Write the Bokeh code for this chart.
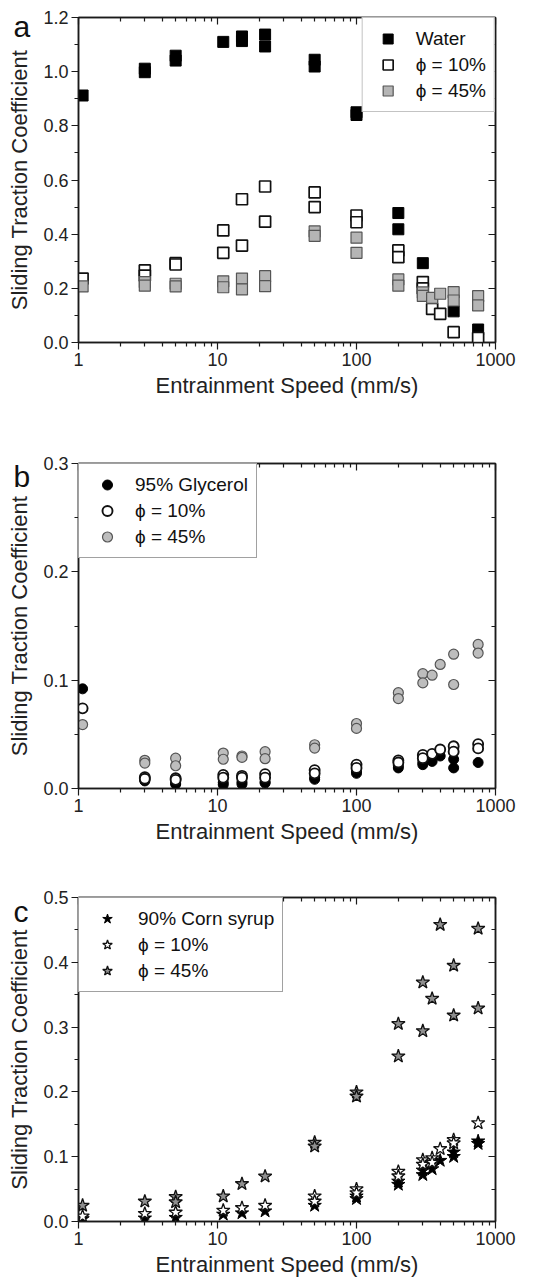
from bokeh.plotting import figure
from bokeh.layouts import column
from bokeh.models import (LogAxis, LinearAxis, FixedTicker, NumeralTickFormatter,
                          PrintfTickFormatter, Label, Legend, LegendItem)
from bokeh.embed import file_html
from bokeh.resources import INLINE

FONT = "Liberation Sans"

# ---------------- data ----------------
x_major = [1, 10, 100, 1000]
x_minor = [2, 3, 4, 5, 6, 7, 8, 9, 20, 30, 40, 50, 60, 70, 80, 90,
           200, 300, 400, 500, 600, 700, 800, 900]
x_title = "Entrainment Speed (mm/s)"
y_title = "Sliding Traction Coefficient"
PHI = "\u03d5"

# panel a
a_water_x = [1.07, 3, 3, 5, 5, 11, 15, 15, 22, 22, 50, 50, 100, 100, 200, 200, 300, 350, 500, 750]
a_water_y = [0.912, 1.011, 0.998, 1.059, 1.041, 1.110, 1.130, 1.113, 1.137, 1.093, 1.044, 1.019,
             0.850, 0.840, 0.478, 0.418, 0.293, 0.145, 0.115, 0.048]
a_phi10_x = [1.07, 3, 3, 5, 5, 11, 11, 15, 15, 22, 22, 50, 50, 100, 100, 200, 200, 300, 300,
             350, 400, 500, 750]
a_phi10_y = [0.236, 0.266, 0.247, 0.293, 0.288, 0.414, 0.331, 0.529, 0.358, 0.576, 0.446, 0.554,
             0.500, 0.469, 0.444, 0.340, 0.315, 0.223, 0.200, 0.124, 0.106, 0.038, 0.017]
a_phi45_x = [1.07, 3, 3, 5, 5, 11, 11, 15, 15, 22, 22, 50, 50, 100, 100, 200, 200, 300, 300,
             350, 400, 500, 500, 750, 750]
a_phi45_y = [0.207, 0.223, 0.210, 0.217, 0.207, 0.226, 0.204, 0.236, 0.196, 0.245, 0.208, 0.410,
             0.394, 0.387, 0.331, 0.233, 0.210, 0.185, 0.172, 0.165, 0.180, 0.186, 0.155, 0.171, 0.137]
a_labels = ["Water", PHI + " = 10%", PHI + " = 45%"]
a_y_ticks = [0.0, 0.2, 0.4, 0.6, 0.8, 1.0, 1.2]
a_y_minor = [0.1, 0.3, 0.5, 0.7, 0.9, 1.1]

# panel b
b_gly_x = [1.07, 3, 3, 5, 5, 11, 11, 15, 15, 22, 22, 50, 50, 100, 100, 200, 200, 300, 300,
           350, 400, 500, 500, 750]
b_gly_y = [0.092, 0.008, 0.007, 0.005, 0.004, 0.0055, 0.0035, 0.006, 0.004, 0.006, 0.005,
           0.010, 0.0085, 0.016, 0.014, 0.021, 0.019, 0.024, 0.022, 0.025, 0.030, 0.027, 0.019, 0.024]
b_phi10_x = [1.07, 3, 3, 5, 5, 11, 11, 15, 15, 22, 22, 50, 50, 100, 100, 200, 200, 300, 300,
             350, 400, 500, 500, 750, 750]
b_phi10_y = [0.074, 0.0105, 0.009, 0.0095, 0.008, 0.0126, 0.010, 0.0117, 0.010, 0.0133, 0.010,
             0.0170, 0.014, 0.022, 0.019, 0.026, 0.024, 0.031, 0.028, 0.032, 0.036, 0.039, 0.034,
             0.041, 0.037]
b_phi45_x = [1.07, 3, 3, 5, 5, 11, 11, 15, 15, 22, 22, 50, 50, 100, 100, 200, 200, 300, 300,
             350, 400, 500, 500, 750, 750]
b_phi45_y = [0.059, 0.026, 0.0235, 0.028, 0.021, 0.0327, 0.027, 0.030, 0.0287, 0.034, 0.0275,
             0.0404, 0.0373, 0.060, 0.0555, 0.0885, 0.083, 0.106, 0.0975, 0.1046, 0.1145, 0.124,
             0.096, 0.133, 0.125]
b_labels = ["95% Glycerol", PHI + " = 10%", PHI + " = 45%"]
b_y_ticks = [0.0, 0.1, 0.2, 0.3]
b_y_minor = [0.05, 0.15, 0.25]

# panel c
c_corn_x = [1.07, 3, 5, 11, 15, 22, 50, 100, 100, 200, 200, 300, 300, 350, 400, 500, 500, 750, 750]
c_corn_y = [0.004, 0.005, 0.006, 0.011, 0.013, 0.016, 0.0246, 0.039, 0.035, 0.062, 0.057, 0.079,
            0.072, 0.081, 0.094, 0.107, 0.100, 0.124, 0.120]
c_phi10_x = [1.07, 3, 5, 11, 15, 22, 50, 50, 100, 100, 200, 200, 300, 300, 350, 350, 400, 500, 500, 750]
c_phi10_y = [0.008, 0.012, 0.014, 0.017, 0.021, 0.0246, 0.039, 0.031, 0.050, 0.044, 0.077, 0.070,
             0.095, 0.088, 0.098, 0.091, 0.112, 0.126, 0.121, 0.152]
c_phi45_x = [1.07, 3, 5, 5, 11, 15, 22, 50, 50, 100, 100, 200, 200, 300, 300, 350, 400, 500, 500,
             750, 750]
c_phi45_y = [0.0246, 0.031, 0.038, 0.030, 0.039, 0.058, 0.0697, 0.122, 0.116, 0.1995, 0.193, 0.305,
             0.255, 0.369, 0.294, 0.344, 0.458, 0.395, 0.318, 0.452, 0.329]
c_labels = ["90% Corn syrup", PHI + " = 10%", PHI + " = 45%"]
c_y_ticks = [0.0, 0.1, 0.2, 0.3, 0.4, 0.5]
c_y_minor = [0.05, 0.15, 0.25, 0.35, 0.45]

W = 555
LEFT, RIGHT = 78, 60
AX = "#1a1a1a"


def style_axis(ax, labels=True):
    ax.axis_line_color = AX
    ax.axis_line_width = 1.5
    ax.major_tick_line_color = AX
    ax.minor_tick_line_color = AX
    ax.major_tick_line_width = 1.2
    ax.minor_tick_line_width = 1.2
    if labels:
        ax.major_tick_out = 7
        ax.major_tick_in = 0
        ax.minor_tick_out = 4
        ax.minor_tick_in = 0
        ax.major_label_text_font = FONT
        ax.major_label_text_font_size = "18px"
        ax.major_label_text_color = "#222222"
        ax.major_label_standoff = 3
        ax.axis_label_text_font = FONT
        ax.axis_label_text_font_size = "22px"
        ax.axis_label_text_font_style = "normal"
        ax.axis_label_text_color = "#222222"
    else:
        ax.major_tick_out = 0
        ax.major_tick_in = 7
        ax.minor_tick_out = 0
        ax.minor_tick_in = 4
        ax.major_label_text_font_size = "1px"
        ax.major_label_text_alpha = 0.0
        ax.major_label_standoff = 0


def make_panel(height, top, bottom, ymax, yticks, yminor, letter, letter_y):
    p = figure(width=W, height=height, x_axis_type="log", x_range=(1, 1000), y_range=(0, ymax),
               output_backend="svg", toolbar_location=None,
               min_border_left=LEFT, min_border_right=RIGHT,
               min_border_top=top, min_border_bottom=bottom)
    p.xgrid.visible = False
    p.ygrid.visible = False
    p.outline_line_color = AX
    p.outline_line_width = 1.5
    p.background_fill_color = "white"
    p.border_fill_color = "white"

    xt = FixedTicker(ticks=x_major, minor_ticks=x_minor)
    yt = FixedTicker(ticks=yticks, minor_ticks=yminor)

    xa = p.xaxis[0]
    xa.ticker = xt
    xa.formatter = PrintfTickFormatter(format="%d")
    xa.axis_label = x_title
    xa.axis_label_standoff = 4
    style_axis(xa)

    ya = p.yaxis[0]
    ya.ticker = yt
    ya.formatter = NumeralTickFormatter(format="0.0")
    ya.axis_label = y_title
    ya.axis_label_standoff = 8
    style_axis(ya)

    top_ax = LogAxis(ticker=xt, formatter=PrintfTickFormatter(format="%d"))
    style_axis(top_ax, labels=False)
    p.add_layout(top_ax, "above")
    right_ax = LinearAxis(ticker=yt, formatter=NumeralTickFormatter(format="0.0"))
    style_axis(right_ax, labels=False)
    p.add_layout(right_ax, "right")

    # panel letter: held by the (roomy) right side panel so it is not clipped to the
    # frame; its position is given in data units, left of the y tick labels
    p.add_layout(Label(x=0.34, y=letter_y, text=letter, text_font=FONT, text_font_size="30px",
                       text_color="#111111", text_baseline="alphabetic"), "right")
    return p


def add_legend(p, items, loc, glyph_w, standoff, border):
    lg = Legend(items=items, location=loc, margin=0, padding=8, spacing=1,
                glyph_height=25, glyph_width=glyph_w, label_height=25, label_standoff=standoff,
                label_text_font=FONT, label_text_font_size="19px", label_text_color="#111111",
                border_line_color=border, border_line_width=1, background_fill_alpha=1.0)
    p.add_layout(lg)


# ---------------- panel a ----------------
pa = make_panel(420, 17, 78, 1.2, a_y_ticks, a_y_minor, "a", 1.165)
ra1 = pa.scatter(a_water_x, a_water_y, marker="square", size=11, fill_color="black",
                 line_color="black", line_width=1)
ra2 = pa.scatter(a_phi10_x, a_phi10_y, marker="square", size=11, fill_color="white",
                 line_color="#111111", line_width=1.7)
ra3 = pa.scatter(a_phi45_x, a_phi45_y, marker="square", size=11, fill_color="#b5b5b5",
                 line_color="#555555", line_width=1.2)
add_legend(pa, [LegendItem(label=a_labels[0], renderers=[ra1]),
                LegendItem(label=a_labels[1], renderers=[ra2]),
                LegendItem(label=a_labels[2], renderers=[ra3])], "top_right", 34, 11, "#888888")

# ---------------- panel b ----------------
pb = make_panel(430, 43, 62, 0.3, b_y_ticks, b_y_minor, "b", 0.288)
rb1 = pb.scatter(b_gly_x, b_gly_y, marker="circle", size=10, fill_color="black",
                 line_color="black", line_width=1)
rb2 = pb.scatter(b_phi10_x, b_phi10_y, marker="circle", size=10, fill_color="white",
                 line_color="#111111", line_width=1.9)
rb3 = pb.scatter(b_phi45_x, b_phi45_y, marker="circle", size=10, fill_color="#bdbdbd",
                 line_color="#555555", line_width=1.2)
add_legend(pb, [LegendItem(label=b_labels[0], renderers=[rb1]),
                LegendItem(label=b_labels[1], renderers=[rb2]),
                LegendItem(label=b_labels[2], renderers=[rb3])], "top_left", 40, 8, "#444444")

# ---------------- panel c ----------------
pc = make_panel(429, 47, 57, 0.5, c_y_ticks, c_y_minor, "c", 0.478)
rc1 = pc.scatter(c_corn_x, c_corn_y, marker="star", size=14, fill_color="black",
                 line_color="black", line_width=1)
rc2 = pc.scatter(c_phi10_x, c_phi10_y, marker="star", size=14, fill_color="white",
                 line_color="#111111", line_width=1.3)
rc3 = pc.scatter(c_phi45_x, c_phi45_y, marker="star", size=14, fill_color="#8f8f8f",
                 line_color="#111111", line_width=1.3)
add_legend(pc, [LegendItem(label=c_labels[0], renderers=[rc1]),
                LegendItem(label=c_labels[1], renderers=[rc2]),
                LegendItem(label=c_labels[2], renderers=[rc3])], "top_left", 40, 11, "#444444")

layout = column(pa, pb, pc, spacing=0)
open("out.html", "w").write(file_html(layout, INLINE))
